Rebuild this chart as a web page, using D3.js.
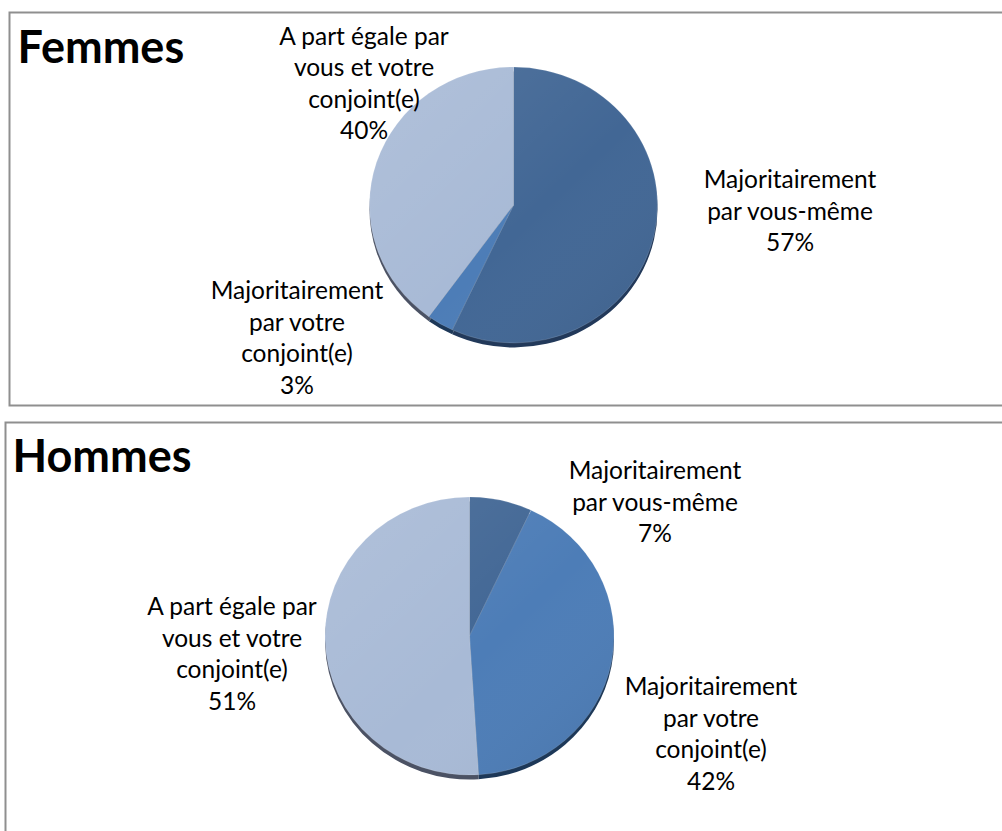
<!DOCTYPE html>
<html><head><meta charset="utf-8">
<script src="https://cdn.jsdelivr.net/npm/d3@7"></script>
<style>body{margin:0;background:#fff;} svg{display:block}</style>
</head><body>
<svg id="chart" width="1002" height="831"></svg>
<script>
const categories = ["Majoritairement par vous-même", "Majoritairement par votre conjoint(e)", "A part égale par vous et votre conjoint(e)"];
const labelLines = [["Majoritairement", "par vous-même"], ["Majoritairement", "par votre", "conjoint(e)"], ["A part égale par", "vous et votre", "conjoint(e)"]];
const femmesValues = [57, 3, 40];
const hommesValues = [7, 42, 51];
const panelTitles = ["Femmes", "Hommes"];

const sliceColors = ["#426795", "#4d7db7", "#a8bad6"];
const sideColors = ["#22395a", "#1d3858", "#4b5264"];

const layouts = [
  { box: {x: 9.5, y: 12.5, w: 1010, h: 393}, titleX: 17.5, titleY: 63, cx: 513.5, cy: 205, rx: 144, ry: 138,
    labels: [{x: 790, y: 188}, {x: 297, y: 299}, {x: 364, y: 44.5}] },
  { box: {x: 5.5, y: 422.5, w: 1010, h: 420}, titleX: 12.5, titleY: 472, cx: 469.5, cy: 636, rx: 144.5, ry: 139,
    labels: [{x: 655, y: 479}, {x: 711, y: 695}, {x: 232, y: 615}] }
];
const seriesValues = [femmesValues, hommesValues];

const svg = d3.select("#chart");
const defs = svg.append("defs");
const grad = defs.append("linearGradient").attr("id", "shade").attr("x1", "0%").attr("y1", "0%").attr("x2", "100%").attr("y2", "100%");
grad.append("stop").attr("offset", "0%").attr("stop-color", "#ffffff").attr("stop-opacity", 0.10);
grad.append("stop").attr("offset", "55%").attr("stop-color", "#ffffff").attr("stop-opacity", 0.0);
grad.append("stop").attr("offset", "100%").attr("stop-color", "#000000").attr("stop-opacity", 0.08);

const color = d3.scaleOrdinal().domain(categories).range(sliceColors);
const side = d3.scaleOrdinal().domain(categories).range(sideColors);
const lineH = 31.5;

layouts.forEach((L, i) => {
  const values = seriesValues[i];
  const data = categories.map((c, k) => ({cat: c, value: values[k], lines: labelLines[k]}));
  const g = svg.append("g");
  g.append("rect").attr("x", L.box.x).attr("y", L.box.y).attr("width", L.box.w).attr("height", L.box.h)
    .attr("fill", "#fff").attr("stroke", "#8f8f8f").attr("stroke-width", 2);
  g.append("text").attr("x", L.titleX).attr("y", L.titleY).text(panelTitles[i])
    .attr("font-family", "Lato, 'Open Sans', sans-serif").attr("font-weight", "bold").attr("font-size", 45).attr("fill", "#000");

  const pie = d3.pie().sort(null).value(d => d.value);
  const arcs = pie(data);
  const arc = d3.arc().innerRadius(0).outerRadius(L.rx);
  const sy = L.ry / L.rx;

  // 3D side
  const sideG = g.append("g").attr("transform", `translate(${L.cx},${L.cy + 4.5}) scale(1,${sy})`);
  sideG.selectAll("path").data(arcs).join("path").attr("d", arc).attr("fill", d => side(d.data.cat));
  // top faces
  const topG = g.append("g").attr("transform", `translate(${L.cx},${L.cy}) scale(1,${sy})`);
  topG.selectAll("path").data(arcs).join("path").attr("d", arc).attr("fill", d => color(d.data.cat))
    .attr("stroke", "#ffffff").attr("stroke-opacity", 0.25).attr("stroke-width", 0.6);
  topG.append("circle").attr("r", L.rx).attr("fill", "url(#shade)");

  // labels
  data.forEach((d, k) => {
    const lp = L.labels[k];
    const t = g.append("text").attr("text-anchor", "middle")
      .attr("font-family", "Lato, 'Open Sans', sans-serif").attr("font-size", 24.5).attr("fill", "#000");
    const lines = d.lines.concat([d.value + "%"]);
    lines.forEach((ln, j) => t.append("tspan").attr("x", lp.x).attr("y", lp.y + j * lineH).text(ln));
  });
});
</script>
</body></html>
